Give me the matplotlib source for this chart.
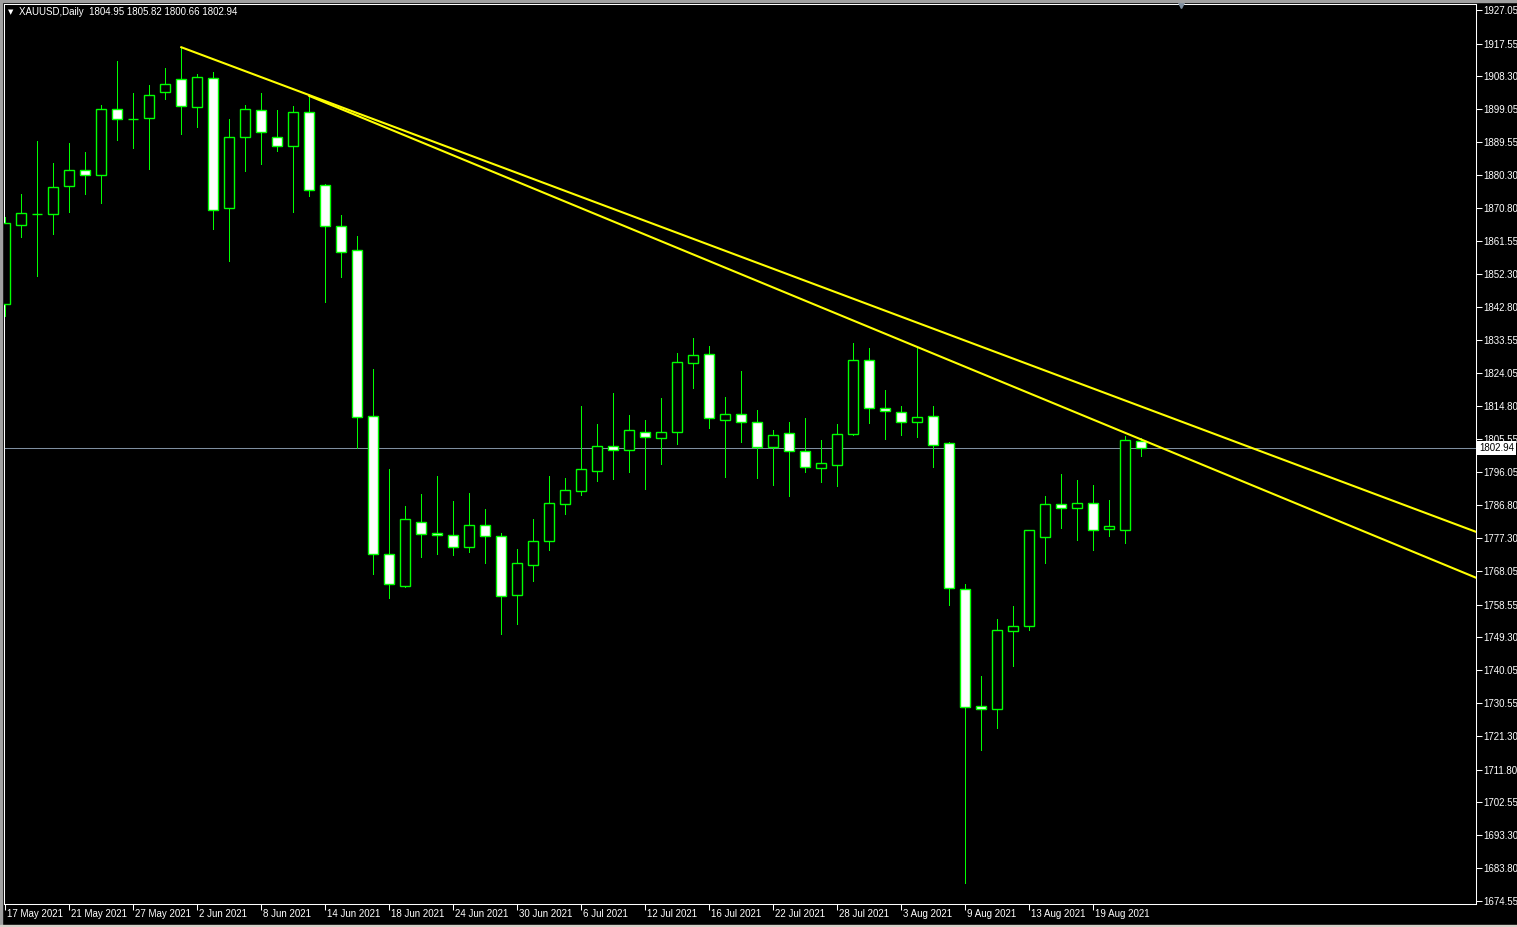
import matplotlib.pyplot as plt
import matplotlib.transforms as mtransforms
from matplotlib.patches import Rectangle
import numpy as np

plt.rcParams['font.family'] = ['Liberation Sans', 'DejaVu Sans']

# daily XAUUSD bars, 17 May 2021 .. 24 Aug 2021
opens = [1843.6, 1866.0, 1869.1, 1869.3, 1877.3, 1881.6, 1880.4, 1898.9, 1896.1, 1896.5,
         1903.9, 1907.4, 1899.7, 1907.7, 1870.8, 1891.2, 1898.7, 1891.0, 1888.6, 1898.1,
         1877.4, 1865.8, 1859.0, 1812.0, 1772.8, 1763.9, 1781.9, 1778.8, 1778.2, 1775.0,
         1781.0, 1777.9, 1761.2, 1769.7, 1776.5, 1787.0, 1790.8, 1796.3, 1803.4, 1802.3,
         1807.4, 1805.7, 1807.4, 1826.9, 1829.5, 1810.8, 1812.5, 1810.2, 1803.1, 1807.1,
         1802.0, 1797.2, 1798.2, 1806.8, 1827.8, 1814.2, 1813.0, 1810.2, 1811.9, 1804.3,
         1762.9, 1729.7, 1729.05, 1751.0, 1752.4, 1777.8, 1787.0, 1785.8, 1787.25, 1779.9,
         1779.6, 1804.95]
highs = [1868.3, 1874.9, 1889.9, 1883.7, 1889.4, 1886.8, 1900.1, 1912.6, 1903.5, 1905.8,
         1910.6, 1916.5, 1908.8, 1909.4, 1896.2, 1900.1, 1903.5, 1898.7, 1899.8, 1902.7,
         1877.6, 1869.0, 1863.1, 1825.4, 1797.0, 1786.5, 1789.9, 1795.0, 1787.9, 1790.2,
         1785.6, 1778.8, 1774.3, 1782.8, 1795.0, 1794.4, 1814.8, 1809.7, 1818.5, 1812.3,
         1810.9, 1817.1, 1829.9, 1834.1, 1831.8, 1817.4, 1824.8, 1813.7, 1808.0, 1810.3,
         1811.4, 1805.2, 1809.7, 1832.7, 1831.3, 1819.4, 1814.8, 1831.55, 1814.8, 1804.5,
         1764.4, 1738.3, 1754.5, 1758.15, 1779.6, 1789.3, 1795.6, 1793.9, 1792.4, 1788.2,
         1806.3, 1805.82]
lows = [1840.4, 1862.8, 1851.7, 1863.7, 1869.8, 1874.9, 1872.4, 1890.3, 1887.9, 1882.1,
        1901.8, 1892.0, 1894.0, 1865.1, 1855.8, 1881.3, 1883.5, 1887.2, 1869.7, 1874.2,
        1844.4, 1851.5, 1802.9, 1767.1, 1760.5, 1763.6, 1772.1, 1773.0, 1772.7, 1773.5,
        1770.4, 1750.3, 1753.1, 1765.3, 1774.1, 1784.3, 1789.7, 1793.7, 1794.0, 1796.2,
        1791.4, 1798.5, 1804.2, 1820.0, 1808.7, 1794.8, 1804.7, 1794.5, 1792.5, 1789.4,
        1796.2, 1793.4, 1792.2, 1806.5, 1810.1, 1805.6, 1806.7, 1806.1, 1797.6, 1758.4,
        1679.7, 1717.4, 1723.7, 1741.2, 1751.4, 1770.4, 1780.3, 1776.9, 1774.1, 1778.1,
        1776.1, 1800.66]
closes = [1866.6, 1869.4, 1869.3, 1876.8, 1881.6, 1880.4, 1898.9, 1896.2, 1896.3, 1902.9,
          1906.0, 1899.9, 1908.0, 1870.4, 1891.2, 1898.9, 1892.6, 1888.4, 1898.1, 1875.9,
          1865.7, 1858.6, 1811.7, 1773.0, 1764.3, 1782.7, 1778.5, 1778.2, 1774.8, 1781.0,
          1777.9, 1760.9, 1770.3, 1776.5, 1787.3, 1790.9, 1796.9, 1803.4, 1802.3, 1807.9,
          1806.0, 1807.4, 1827.2, 1829.2, 1811.3, 1812.5, 1810.2, 1803.1, 1806.5, 1802.0,
          1797.5, 1798.6, 1806.8, 1827.8, 1814.2, 1813.3, 1810.2, 1811.6, 1803.7, 1763.2,
          1729.45, 1728.9, 1751.3, 1752.4, 1779.6, 1787.0, 1785.8, 1787.25, 1779.6, 1780.7,
          1805.1, 1802.94]

date_labels = ["17 May 2021", "21 May 2021", "27 May 2021", "2 Jun 2021", "8 Jun 2021",
               "14 Jun 2021", "18 Jun 2021", "24 Jun 2021", "30 Jun 2021", "6 Jul 2021",
               "12 Jul 2021", "16 Jul 2021", "22 Jul 2021", "28 Jul 2021", "3 Aug 2021",
               "9 Aug 2021", "13 Aug 2021", "19 Aug 2021"]
price_labels = ["1927.05", "1917.55", "1908.30", "1899.05", "1889.55", "1880.30", "1870.80",
                "1861.55", "1852.30", "1842.80", "1833.55", "1824.05", "1814.80", "1805.55",
                "1796.05", "1786.80", "1777.30", "1768.05", "1758.55", "1749.30", "1740.05",
                "1730.55", "1721.30", "1711.80", "1702.55", "1693.30", "1683.80", "1674.55"]

# trendlines: (bar index, price) anchor pairs
trend_a = [(11, 1916.5), (91.9, 1779.2)]
trend_b = [(19, 1902.7), (57, 1831.55)]

W, H = 1517, 927
fig = plt.figure(figsize=(W / 100, H / 100), dpi=100, facecolor='black')
ax = fig.add_axes([4 / W, (H - 904) / H, 1472 / W, 900 / H], facecolor='black')

o = np.array(opens)
c = np.array(closes)
x = np.arange(len(o))
bull = c >= o
face = np.where(bull, 'black', 'white')

ax.vlines(x, lows, highs, color='#00ff00', lw=0.72, zorder=2, antialiased=False)
ax.bar(x, np.abs(c - o), bottom=np.minimum(o, c), width=0.6, color=face,
       edgecolor='#00ff00', linewidth=1.0, zorder=3)

# current price line
ax.axhline(closes[-1], color='#7f8fa0', lw=0.75, zorder=1)

xmax = 91.92
for (x0, y0), (x1, y1) in (trend_a, trend_b):
    k = (y1 - y0) / (x1 - x0)
    ax.plot([x0, xmax + 1], [y0, y0 + k * (xmax + 1 - x0)], color='#ffff00', lw=1.5, zorder=4)

ax.set_xlim(-0.08, xmax)
ax.set_ylim(1673.70, 1928.75)

for s in ax.spines.values():
    s.set_color('white')
    s.set_linewidth(0.75)

ax.set_xticks(np.arange(len(date_labels)) * 4)
ax.set_xticklabels(date_labels)
ax.tick_params(axis='x', colors='white', direction='out', length=4, width=0.75,
               labelsize=7, pad=-0.5)
shift = mtransforms.ScaledTranslation(1.0 / 72, 0, fig.dpi_scale_trans)
for lbl in ax.get_xticklabels():
    lbl.set_ha('left')
    lbl.set_transform(lbl.get_transform() + shift)

ax.yaxis.tick_right()
ax.set_yticks([float(p) for p in price_labels])
ax.set_yticklabels(price_labels)
ax.tick_params(axis='y', colors='white', direction='out', length=4, width=0.75,
               labelsize=7, pad=1.5)

# price tag on the axis
ytag = mtransforms.blended_transform_factory(ax.transAxes, ax.transData)
ax.text(1.0 + 3 / 1472, closes[-1], f"{closes[-1]:.2f}", transform=ytag, ha='left',
        va='center', fontsize=7, color='black', zorder=10,
        bbox=dict(boxstyle='square,pad=0.2', fc='white', ec='none'))

# header
ax.text(4 / 1472, 1 - 8 / 900, "\u25bc", transform=ax.transAxes, fontsize=5,
        color='white', va='center', ha='left', family='DejaVu Sans')
ax.text(15 / 1472, 1 - 8 / 900,
        "XAUUSD,Daily  %.2f %.2f %.2f %.2f" % (opens[-1], highs[-1], lows[-1], closes[-1]),
        transform=ax.transAxes, fontsize=7, color='white', va='center', ha='left')

# chart shift marker
ax.plot([0.7996], [1.0], marker='v', ms=6, color='#7f8fa0', transform=ax.transAxes,
        clip_on=False, zorder=5)

# window frame strips
fig.patches.append(Rectangle((0, 0), 2 / W, 1, transform=fig.transFigure, color='#a0a0a0'))
fig.patches.append(Rectangle((0, 1 - 2 / H), 1, 2 / H, transform=fig.transFigure, color='#a0a0a0'))
fig.patches.append(Rectangle((0, 0), 1, 2 / H, transform=fig.transFigure, color='#d4d0c8'))

fig.savefig('out.png', dpi=100, facecolor='black')
